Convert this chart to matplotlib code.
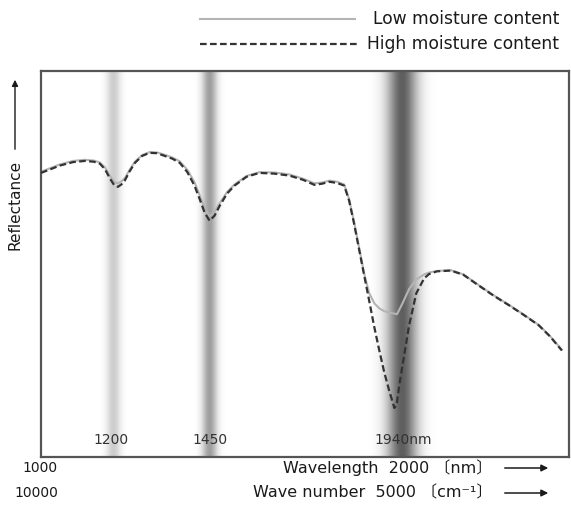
import matplotlib
matplotlib.use("Agg")

import numpy as np
import matplotlib.pyplot as plt
from matplotlib.lines import Line2D

W, H = 571, 512

# --- data (wavelength nm, reflectance arbitrary 0-100) ---
high_wl = [1000, 1050, 1085, 1116, 1140, 1156, 1170, 1183, 1195, 1204, 1213, 1222,
           1235, 1249, 1268, 1288, 1308, 1328, 1348, 1368, 1388, 1407, 1420, 1434,
           1447, 1460, 1474, 1493, 1513, 1545, 1579, 1620, 1659, 1695, 1725, 1745,
           1765, 1785, 1804, 1817, 1830, 1844, 1857, 1870, 1883, 1897, 1910, 1923,
           1937, 1943, 1950, 1963, 1976, 1995, 2016, 2029, 2050, 2087, 2120, 2161,
           2200, 2241, 2280, 2320, 2350, 2381]
high_refl = [73.6, 75.5, 76.4, 76.7, 76.5, 76.0, 74.5, 72.1, 70.3, 70.0, 70.6, 71.6,
             74.0, 76.2, 78.0, 78.8, 78.7, 78.0, 77.3, 76.2, 73.8, 70.3, 67.0, 63.3,
             61.2, 62.5, 65.1, 68.2, 70.3, 72.6, 73.6, 73.4, 72.9, 71.8, 70.5, 70.8,
             71.3, 71.0, 70.3, 66.4, 60.5, 53.5, 47.0, 40.6, 34.0, 27.6, 22.0, 17.3,
             12.7, 13.5, 18.6, 26.4, 34.1, 42.4, 46.3, 47.4, 48.1, 48.3, 47.2, 44.4,
             41.8, 39.3, 36.8, 34.1, 31.2, 27.6]

low_wl = [1000, 1050, 1085, 1116, 1140, 1156, 1170, 1183, 1195, 1204, 1213, 1222,
          1235, 1249, 1268, 1288, 1308, 1328, 1348, 1368, 1388, 1407, 1420, 1434,
          1447, 1460, 1474, 1493, 1513, 1545, 1579, 1620, 1659, 1695, 1725, 1745,
          1765, 1785, 1804, 1817, 1830, 1844, 1857, 1870, 1884, 1897, 1910, 1923,
          1944, 1957, 1976, 1995, 2016, 2029, 2050, 2087, 2120, 2161, 2200, 2241,
          2280, 2320, 2350, 2381]
low_refl = [73.9, 75.8, 76.7, 77.0, 76.8, 76.3, 75.0, 72.8, 71.2, 70.9, 71.4, 72.2,
            74.4, 76.5, 78.2, 79.0, 78.9, 78.3, 77.6, 76.6, 74.4, 71.2, 68.0, 64.5,
            62.4, 63.5, 65.8, 68.6, 70.6, 72.8, 73.8, 73.7, 73.2, 72.1, 70.9, 71.1,
            71.6, 71.3, 70.6, 66.8, 61.0, 54.0, 47.5, 42.5, 39.8, 38.5, 37.8, 37.4,
            37.0, 39.5, 43.5, 46.0, 47.3, 47.8, 48.2, 48.4, 47.3, 44.5, 41.9, 39.4,
            36.9, 34.2, 31.3, 27.8]

# water absorption bands: centre (nm), spread (nm), darkness
band_centers = [1192, 1447, 1958]
band_widths = [13, 14, 28]
band_depths = [0.22, 0.42, 0.7]

X_MIN, X_MAX = 1000, 2400

fig = plt.figure(figsize=(W / 100, H / 100), dpi=100)
ax = fig.add_axes([41 / W, 1 - 457 / H, (569 - 41) / W, (457 - 71) / H])

# shaded bands as a horizontal gradient image
xs = np.linspace(X_MIN, X_MAX, 1400)
alpha = np.zeros_like(xs)
for c, w, d in zip(band_centers, band_widths, band_depths):
    alpha = np.maximum(alpha, d * np.exp(-0.5 * ((xs - c) / w) ** 2))
rgba = np.zeros((1, len(xs), 4))
rgba[..., 0:3] = 0.1
rgba[0, :, 3] = alpha
ax.imshow(rgba, extent=[X_MIN, X_MAX, 0, 100], aspect="auto", zorder=0,
          interpolation="bilinear")

ax.plot(low_wl, low_refl, color="#b4b4b4", lw=1.5, zorder=2)
ax.plot(high_wl, high_refl, color="#333333", lw=1.6, ls=(0, (3.0, 1.5)), zorder=3)

ax.set_xlim(X_MIN, X_MAX)
ax.set_ylim(0, 100)
ax.set_xticks([])
ax.set_yticks([])
for sp in ax.spines.values():
    sp.set_color("#555555")
    sp.set_linewidth(1.6)

FS = 10
TXT = "#1a1a1a"
JP = ["DejaVu Sans", "Noto Sans CJK JP"]


def fx(px):
    return px / W


def fy(py):
    return 1 - py / H


# band labels inside the plot
xt = ax.get_xaxis_transform()
ax.text(1185, 0.045, "1200", transform=xt, ha="center", va="center",
        fontsize=FS, color="#333333")
ax.text(1447, 0.045, "1450", transform=xt, ha="center", va="center",
        fontsize=FS, color="#333333")
ax.text(1960, 0.045, "1940nm", transform=xt, ha="center", va="center",
        fontsize=FS, color="#333333")

# legend drawn by hand
fig.add_artist(Line2D([fx(200), fx(355)], [fy(19), fy(19)], color="#b4b4b4", lw=1.5))
fig.add_artist(Line2D([fx(200), fx(357)], [fy(44), fy(44)], color="#333333", lw=1.6,
                      ls=(0, (3.0, 1.5))))
fig.text(fx(559), fy(19), "Low moisture content", ha="right", va="center",
         fontsize=12.3, color=TXT)
fig.text(fx(559), fy(44), "High moisture content", ha="right", va="center",
         fontsize=12.3, color=TXT)

# y label with arrow
fig.text(fx(15), fy(205), "Reflectance", rotation=90, ha="center", va="center",
         fontsize=11, color=TXT)
ax.annotate("", xy=(fx(15), fy(77)), xytext=(fx(15), fy(152)),
            xycoords="figure fraction", textcoords="figure fraction",
            arrowprops=dict(arrowstyle="-|>", color=TXT, lw=1.0,
                            mutation_scale=9))

# bottom scales
fig.text(fx(58), fy(468), "1000", ha="right", va="center", fontsize=FS, color=TXT)
fig.text(fx(58), fy(493), "10000", ha="right", va="center", fontsize=FS, color=TXT)
fig.text(fx(492), fy(468), "Wavelength  2000 〔nm〕", ha="right", va="center",
         fontsize=11.5, color=TXT, family=JP)
fig.text(fx(492), fy(493), "Wave number  5000 〔cm⁻¹〕", ha="right", va="center",
         fontsize=11.5, color=TXT, family=JP)
for yy in (468, 493):
    ax.annotate("", xy=(fx(551), fy(yy)), xytext=(fx(502), fy(yy)),
                xycoords="figure fraction", textcoords="figure fraction",
                arrowprops=dict(arrowstyle="-|>", color=TXT, lw=1.1,
                                mutation_scale=10))

fig.savefig("out.png", dpi=100)
